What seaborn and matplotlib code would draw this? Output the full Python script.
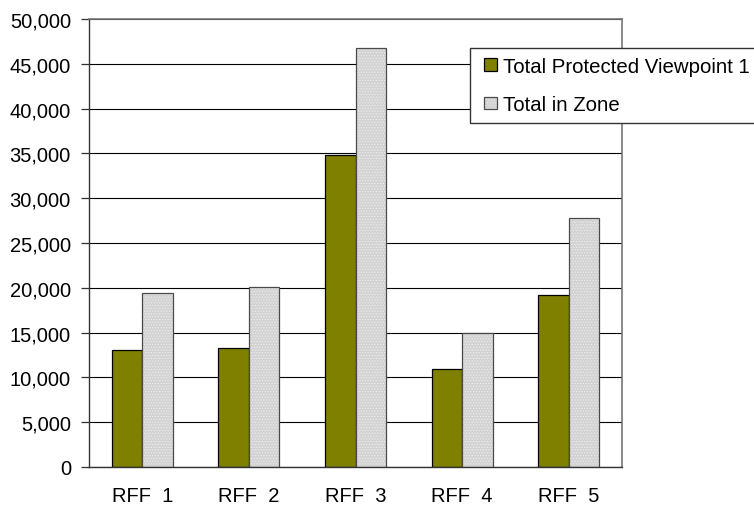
import matplotlib
matplotlib.use("Agg")
import matplotlib.pyplot as plt
from matplotlib.patches import Patch, Rectangle
from matplotlib.legend_handler import HandlerPatch
from matplotlib.ticker import FuncFormatter, MultipleLocator, FixedLocator
import pandas as pd
import seaborn as sns

# Counts per rural fringe field
sites = ["RFF  1", "RFF  2", "RFF  3", "RFF  4", "RFF  5"]
series_names = ["Total Protected Viewpoint 1", "Total in Zone"]
protected_viewpoint = [13100, 13300, 34800, 10950, 19150]
total_in_zone = [19400, 20050, 46750, 15000, 27800]

df = pd.DataFrame({
    "site": sites * 2,
    "series": [series_names[0]] * len(sites) + [series_names[1]] * len(sites),
    "count": protected_viewpoint + total_in_zone,
})

sns.set_style("white")
plt.rcParams["font.family"] = ["Liberation Sans", "DejaVu Sans"]
plt.rcParams["text.color"] = "black"
plt.rcParams["hatch.linewidth"] = 0.6

olive = "#808000"
light = "#d2d2d2"
dots = "#ececec"

fig = plt.figure(figsize=(7.54, 5.06), dpi=100)
ax = fig.add_axes([89 / 754, 1 - 468 / 506, (622 - 89) / 754, (468 - 20) / 506])

sns.barplot(
    data=df, x="site", y="count", hue="series", order=sites,
    hue_order=series_names, palette=[olive, light], saturation=1,
    width=0.572, gap=0, edgecolor="black", linewidth=0.9,
    legend=False, ax=ax,
)

# Dotted fill and lighter outline on the zone totals
for bar in ax.containers[1]:
    bar.set_edgecolor("#4a4a4a")
    bar.set_hatch("......")
    bar._hatch_color = matplotlib.colors.to_rgba(dots)

ax.set_xlim(-0.5, len(sites) - 0.5)
ax.set_ylim(0, 50000)
ax.yaxis.set_major_locator(MultipleLocator(5000))
ax.yaxis.set_major_formatter(FuncFormatter(lambda v, _: f"{v:,.0f}"))
ax.set_axisbelow(True)
ax.grid(axis="y", color="black", linewidth=0.8)
ax.set_xlabel("")
ax.set_ylabel("")

# Category separators on the x axis
ax.xaxis.set_minor_locator(FixedLocator([i - 0.5 for i in range(len(sites) + 1)]))
ax.tick_params(axis="x", which="major", length=0, pad=14, labelsize=14.5, colors="black")
ax.tick_params(axis="x", which="minor", length=5, width=0.9, direction="out", color="#333333")
ax.tick_params(axis="y", which="major", length=6, width=0.9, direction="out",
               color="#333333", pad=7, labelsize=14.5, labelcolor="black")
ax.tick_params(axis="both", left=True, bottom=True)

for side in ["left", "bottom"]:
    ax.spines[side].set_color("#333333")
    ax.spines[side].set_linewidth(1.0)
for side in ["top", "right"]:
    ax.spines[side].set_color("#777777")
    ax.spines[side].set_linewidth(1.2)


def square_key(legend, orig_handle, xdescent, ydescent, width, height, fontsize):
    # small square key sitting at the right end of the handle box
    size = 0.6 * fontsize
    return Rectangle((-xdescent + width - size, -ydescent + (height - size) / 2),
                     size, size)


zone_handle = Patch(facecolor=light, edgecolor="#4a4a4a", linewidth=0.9, hatch="......")
zone_handle._hatch_color = matplotlib.colors.to_rgba(dots)
handles = [Patch(facecolor=olive, edgecolor="black", linewidth=0.9), zone_handle]
leg = fig.legend(
    handles, series_names, loc="upper left",
    bbox_to_anchor=(470 / 754, 1 - 49 / 506), bbox_transform=fig.transFigure,
    borderaxespad=0, frameon=True, fancybox=False, shadow=False,
    fontsize=14.7, handlelength=0.88, handleheight=0.6, handletextpad=0.31,
    borderpad=0.43, labelspacing=0.95,
    handler_map={Patch: HandlerPatch(patch_func=square_key)},
)
leg.get_frame().set_edgecolor("#333333")
leg.get_frame().set_linewidth(1.0)
leg.get_frame().set_facecolor("white")
leg.get_frame().set_alpha(1)

fig.savefig("out.png", dpi=100)
